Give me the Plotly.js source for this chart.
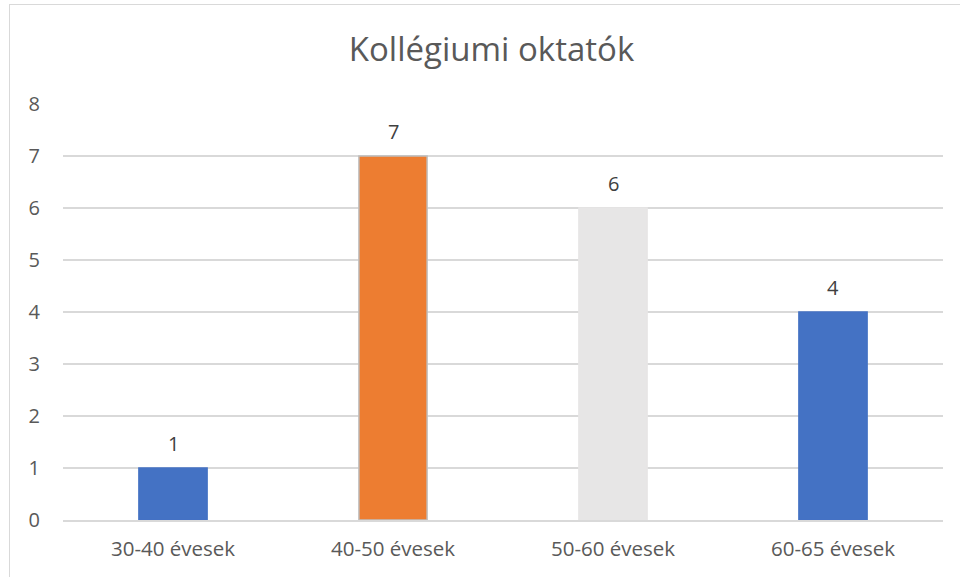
<!DOCTYPE html>
<html>
<head>
<meta charset="utf-8">
<script src="https://cdn.plot.ly/plotly-3.0.1.min.js"></script>
<style>
html,body{margin:0;padding:0;background:#fff;}
#chart{width:960px;height:577px;}
#frame{position:absolute;left:9px;top:4px;width:1000px;height:700px;border:1.5px solid #D9D9D9;pointer-events:none;}
</style>
</head>
<body>
<div id="chart"></div>
<div id="frame"></div>
<script>
const categories = ["30-40 évesek", "40-50 évesek", "50-60 évesek", "60-65 évesek"];
const values = [1, 7, 6, 4];
const barColors = ["#4472C4", "#ED7D31", "#E7E6E6", "#4472C4"];
const barLineColors = ["#4472C4", "#BFBFBF", "#E7E6E6", "#4472C4"];
const yTicks = [0, 1, 2, 3, 4, 5, 6, 7, 8];
const chartTitle = "Kollégiumi oktatók";

const font = "'Open Sans', Lato, sans-serif";

const trace = {
  type: "bar",
  x: categories,
  y: values,
  marker: {color: barColors, line: {color: barLineColors, width: 1.5}},
  hoverinfo: "none"
};

const annotations = categories.map((c, i) => ({
  x: c, y: values[i], xref: "x", yref: "y",
  text: String(values[i]), showarrow: false,
  yshift: 25, font: {family: font, size: 20, color: "#404040"}
}));

const layout = {
  width: 960, height: 577,
  paper_bgcolor: "#ffffff", plot_bgcolor: "#ffffff",
  margin: {l: 63, r: 17, t: 104, b: 57},
  bargap: 0.69,
  showlegend: false,
  title: {text: chartTitle, x: 0.512, xanchor: "center", y: 0.915, yanchor: "middle",
          font: {family: font, size: 33, color: "#595959"}},
  xaxis: {
    type: "category",
    showgrid: false, zeroline: false,
    showline: true, linecolor: "#D9D9D9", linewidth: 1.5,
    ticks: "", ticklabelstandoff: 10,
    tickfont: {family: font, size: 20.5, color: "#595959"}
  },
  yaxis: {
    range: [0, 8], tickvals: yTicks, ticktext: yTicks.map(String),
    showgrid: true, gridcolor: "#D9D9D9", gridwidth: 1.5,
    zeroline: false, showline: false, ticks: "",
    ticklabelstandoff: 22,
    tickfont: {family: font, size: 20, color: "#595959"}
  },
  annotations: annotations
};

Plotly.newPlot("chart", [trace], layout, {displayModeBar: false, staticPlot: true});
</script>
</body>
</html>
